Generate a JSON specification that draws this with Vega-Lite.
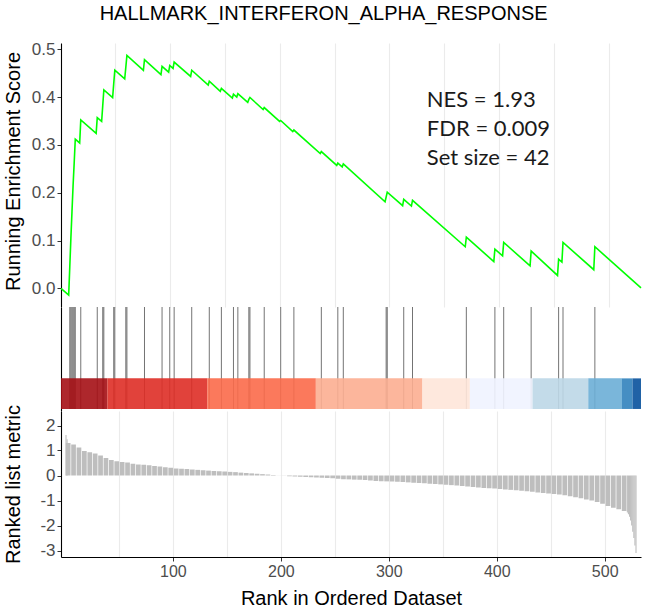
{
  "$schema": "https://vega.github.io/schema/vega-lite/v6.json",
  "padding": {"left": 2, "top": 4, "right": 3, "bottom": 5},
  "background": "white",
  "spacing": 0,
  "bounds": "flush",
  "title": {"text": "HALLMARK_INTERFERON_ALPHA_RESPONSE", "font": "Liberation Sans", "fontSize": 20, "fontWeight": "normal", "color": "black", "anchor": "middle", "baseline": "alphabetic", "offset": 0},
  "config": {
    "view": {"stroke": null},
    "font": "Liberation Sans",
    "axis": {"domainColor": "black", "domainWidth": 1.1, "labelFont": "Liberation Sans", "titleFont": "Liberation Sans", "labelColor": "#4D4D4D", "labelFontSize": 16, "titleFontSize": 20, "titleFontWeight": "normal", "titleColor": "black", "tickColor": "#333333", "tickSize": 4, "gridColor": "#EBEBEB", "gridWidth": 1.1, "labelOverlap": false}
  },
  "datasets": {
    "es": [
      {"rank": 1, "es": 0.0}, {"rank": 8, "es": -0.014}, {"rank": 9, "es": 0.045}, {"rank": 10, "es": 0.105},
      {"rank": 11, "es": 0.16}, {"rank": 12, "es": 0.215}, {"rank": 13, "es": 0.262}, {"rank": 14, "es": 0.312},
      {"rank": 18, "es": 0.304}, {"rank": 19, "es": 0.352}, {"rank": 33, "es": 0.324}, {"rank": 34, "es": 0.357},
      {"rank": 38, "es": 0.349}, {"rank": 39, "es": 0.382}, {"rank": 40, "es": 0.415}, {"rank": 48, "es": 0.399},
      {"rank": 49, "es": 0.428}, {"rank": 50, "es": 0.456}, {"rank": 59, "es": 0.438}, {"rank": 60, "es": 0.462},
      {"rank": 61, "es": 0.487}, {"rank": 76, "es": 0.456}, {"rank": 77, "es": 0.478}, {"rank": 92, "es": 0.447},
      {"rank": 93, "es": 0.464}, {"rank": 99, "es": 0.452}, {"rank": 100, "es": 0.466}, {"rank": 103, "es": 0.46},
      {"rank": 104, "es": 0.473}, {"rank": 119, "es": 0.443}, {"rank": 120, "es": 0.456}, {"rank": 135, "es": 0.425},
      {"rank": 136, "es": 0.433}, {"rank": 146, "es": 0.412}, {"rank": 147, "es": 0.418}, {"rank": 157, "es": 0.398},
      {"rank": 158, "es": 0.406}, {"rank": 161, "es": 0.4}, {"rank": 162, "es": 0.407}, {"rank": 171, "es": 0.389},
      {"rank": 172, "es": 0.395}, {"rank": 173, "es": 0.399}, {"rank": 185, "es": 0.374}, {"rank": 186, "es": 0.378},
      {"rank": 200, "es": 0.349}, {"rank": 201, "es": 0.351}, {"rank": 212, "es": 0.328}, {"rank": 213, "es": 0.331},
      {"rank": 237, "es": 0.282}, {"rank": 238, "es": 0.286}, {"rank": 252, "es": 0.257}, {"rank": 253, "es": 0.262},
      {"rank": 257, "es": 0.254}, {"rank": 258, "es": 0.26}, {"rank": 296, "es": 0.181}, {"rank": 297, "es": 0.191},
      {"rank": 298, "es": 0.201}, {"rank": 312, "es": 0.173}, {"rank": 313, "es": 0.186}, {"rank": 320, "es": 0.172},
      {"rank": 321, "es": 0.184}, {"rank": 369, "es": 0.087}, {"rank": 370, "es": 0.107}, {"rank": 395, "es": 0.056},
      {"rank": 396, "es": 0.082}, {"rank": 403, "es": 0.068}, {"rank": 404, "es": 0.096}, {"rank": 428, "es": 0.047},
      {"rank": 429, "es": 0.078}, {"rank": 453, "es": 0.027}, {"rank": 454, "es": 0.061}, {"rank": 457, "es": 0.055},
      {"rank": 458, "es": 0.096}, {"rank": 486, "es": 0.039}, {"rank": 487, "es": 0.087}, {"rank": 529, "es": 0.001}
    ],
    "hits": [
      {"rank": 9}, {"rank": 10}, {"rank": 11}, {"rank": 12}, {"rank": 13}, {"rank": 14}, {"rank": 19}, {"rank": 34},
      {"rank": 39}, {"rank": 40}, {"rank": 49}, {"rank": 50}, {"rank": 60}, {"rank": 61}, {"rank": 77}, {"rank": 93},
      {"rank": 100}, {"rank": 104}, {"rank": 120}, {"rank": 136}, {"rank": 147}, {"rank": 158}, {"rank": 162}, {"rank": 172},
      {"rank": 173}, {"rank": 186}, {"rank": 201}, {"rank": 213}, {"rank": 238}, {"rank": 253}, {"rank": 258}, {"rank": 297},
      {"rank": 298}, {"rank": 313}, {"rank": 321}, {"rank": 370}, {"rank": 396}, {"rank": 404}, {"rank": 429}, {"rank": 454},
      {"rank": 458}, {"rank": 487}
    ],
    "band": [
      {"x0": 1, "x1": 43.2, "bin": "r5"}, {"x0": 43.2, "x1": 134.2, "bin": "r4"}, {"x0": 134.2, "x1": 233, "bin": "r3"},
      {"x0": 233, "x1": 330, "bin": "r2"}, {"x0": 330, "x1": 373.2, "bin": "r1"}, {"x0": 373.2, "x1": 430.2, "bin": "b1"},
      {"x0": 430.2, "x1": 481, "bin": "b2"}, {"x0": 481, "x1": 511.7, "bin": "b3"}, {"x0": 511.7, "x1": 521.3, "bin": "b4"},
      {"x0": 521.3, "x1": 529, "bin": "b5"}
    ],
    "ann": [
      {"x": 334, "y": 0.379, "label": "NES = 1.93"},
      {"x": 334, "y": 0.319, "label": "FDR = 0.009"},
      {"x": 334, "y": 0.258, "label": "Set size = 42"}
    ],
    "metric": [
      {"rank": 1, "m": 1.62, "kind": "thin"}, {"rank": 2, "m": 1.45, "kind": "thin"},
      {"rank": 3, "m": 1.3}, {"rank": 8, "m": 1.24}, {"rank": 13, "m": 1.12}, {"rank": 18, "m": 0.98}, {"rank": 23, "m": 0.93},
      {"rank": 28, "m": 0.88}, {"rank": 33, "m": 0.8}, {"rank": 38, "m": 0.7}, {"rank": 43, "m": 0.62}, {"rank": 48, "m": 0.57},
      {"rank": 53, "m": 0.54}, {"rank": 58, "m": 0.52}, {"rank": 63, "m": 0.47}, {"rank": 68, "m": 0.44}, {"rank": 73, "m": 0.43},
      {"rank": 78, "m": 0.41}, {"rank": 83, "m": 0.38}, {"rank": 88, "m": 0.36}, {"rank": 93, "m": 0.33}, {"rank": 98, "m": 0.31},
      {"rank": 103, "m": 0.28}, {"rank": 108, "m": 0.27}, {"rank": 113, "m": 0.26}, {"rank": 118, "m": 0.24}, {"rank": 123, "m": 0.225},
      {"rank": 128, "m": 0.21}, {"rank": 133, "m": 0.195}, {"rank": 138, "m": 0.18}, {"rank": 143, "m": 0.17}, {"rank": 148, "m": 0.16},
      {"rank": 153, "m": 0.145}, {"rank": 158, "m": 0.135}, {"rank": 163, "m": 0.115}, {"rank": 168, "m": 0.1}, {"rank": 173, "m": 0.085},
      {"rank": 178, "m": 0.07}, {"rank": 183, "m": 0.055}, {"rank": 188, "m": 0.04}, {"rank": 193, "m": 0.02}, {"rank": 198, "m": 0.004},
      {"rank": 203, "m": -0.006}, {"rank": 208, "m": -0.03}, {"rank": 213, "m": -0.04}, {"rank": 218, "m": -0.05}, {"rank": 223, "m": -0.06},
      {"rank": 228, "m": -0.07}, {"rank": 233, "m": -0.08}, {"rank": 238, "m": -0.09}, {"rank": 243, "m": -0.1}, {"rank": 248, "m": -0.11},
      {"rank": 253, "m": -0.13}, {"rank": 258, "m": -0.15}, {"rank": 263, "m": -0.155}, {"rank": 268, "m": -0.165}, {"rank": 273, "m": -0.17},
      {"rank": 278, "m": -0.18}, {"rank": 283, "m": -0.2}, {"rank": 288, "m": -0.22}, {"rank": 293, "m": -0.23}, {"rank": 298, "m": -0.235},
      {"rank": 303, "m": -0.24}, {"rank": 308, "m": -0.25}, {"rank": 313, "m": -0.26}, {"rank": 318, "m": -0.275}, {"rank": 323, "m": -0.29},
      {"rank": 328, "m": -0.3}, {"rank": 333, "m": -0.31}, {"rank": 338, "m": -0.33}, {"rank": 343, "m": -0.34}, {"rank": 348, "m": -0.355},
      {"rank": 353, "m": -0.37}, {"rank": 358, "m": -0.385}, {"rank": 363, "m": -0.4}, {"rank": 368, "m": -0.42}, {"rank": 373, "m": -0.44},
      {"rank": 378, "m": -0.46}, {"rank": 383, "m": -0.48}, {"rank": 388, "m": -0.5}, {"rank": 393, "m": -0.51}, {"rank": 398, "m": -0.52},
      {"rank": 403, "m": -0.54}, {"rank": 408, "m": -0.56}, {"rank": 413, "m": -0.575}, {"rank": 418, "m": -0.59}, {"rank": 423, "m": -0.61},
      {"rank": 428, "m": -0.63}, {"rank": 433, "m": -0.65}, {"rank": 438, "m": -0.68}, {"rank": 443, "m": -0.7}, {"rank": 448, "m": -0.72},
      {"rank": 453, "m": -0.74}, {"rank": 458, "m": -0.76}, {"rank": 463, "m": -0.79}, {"rank": 468, "m": -0.83}, {"rank": 473, "m": -0.87},
      {"rank": 478, "m": -0.91}, {"rank": 483, "m": -0.96}, {"rank": 488, "m": -1.0}, {"rank": 493, "m": -1.06}, {"rank": 498, "m": -1.13},
      {"rank": 503, "m": -1.22}, {"rank": 508, "m": -1.29}, {"rank": 513, "m": -1.35}, {"rank": 518, "m": -1.42},
      {"rank": 521, "m": -1.48, "kind": "thin"}, {"rank": 522, "m": -1.55, "kind": "thin"}, {"rank": 523, "m": -1.65, "kind": "thin"},
      {"rank": 524, "m": -1.8, "kind": "thin"}, {"rank": 525, "m": -2.0, "kind": "thin"}, {"rank": 526, "m": -2.25, "kind": "thin"},
      {"rank": 527, "m": -2.5, "kind": "thin"}, {"rank": 528, "m": -2.8, "kind": "thin"}, {"rank": 529, "m": -3.1, "kind": "thin"}
    ]
  },
  "vconcat": [
    {
      "width": 580, "height": 264,
      "layer": [
        {
          "data": {"name": "es"},
          "mark": {"type": "line", "color": "#00FF00", "strokeWidth": 1.6, "interpolate": "linear"},
          "encoding": {
            "x": {"field": "rank", "type": "quantitative", "scale": {"domain": [1, 529], "nice": false, "zero": false},
                  "axis": {"values": [50, 100, 150, 200, 250, 300, 350, 400, 450, 500], "grid": true, "labels": false, "ticks": false, "domain": false, "title": null}},
            "y": {"field": "es", "type": "quantitative", "scale": {"domain": [-0.039, 0.513], "nice": false, "zero": false},
                  "axis": {"values": [0, 0.1, 0.2, 0.3, 0.4, 0.5], "format": ".1f", "grid": false, "labelOverlap": false, "title": "Running Enrichment Score", "titleX": -42, "titleY": 128, "titleBaseline": "alphabetic", "labelFontSize": 17}}
          }
        },
        {
          "data": {"name": "ann"},
          "mark": {"type": "text", "align": "left", "baseline": "alphabetic", "font": "Lato", "fontSize": 22, "color": "#1a1a1a"},
          "encoding": {
            "x": {"field": "x", "type": "quantitative"},
            "y": {"field": "y", "type": "quantitative"},
            "text": {"field": "label"}
          }
        }
      ]
    },
    {
      "width": 580, "height": 104,
      "layer": [
        {
          "data": {"name": "hits"},
          "mark": {"type": "rule", "color": "black", "strokeWidth": 1, "opacity": 0.55},
          "encoding": {
            "x": {"field": "rank", "type": "quantitative", "scale": {"domain": [1, 529], "nice": false, "zero": false}, "axis": null},
            "y": {"datum": 0, "type": "quantitative", "scale": {"domain": [-0.02, 1], "nice": false, "zero": false},
                  "axis": {"labels": false, "ticks": false, "grid": false, "title": null}},
            "y2": {"datum": 1}
          }
        },
        {
          "data": {"name": "band"},
          "mark": {"type": "rect", "opacity": 0.9},
          "encoding": {
            "x": {"field": "x0", "type": "quantitative"},
            "x2": {"field": "x1"},
            "y": {"datum": 0, "type": "quantitative"},
            "y2": {"datum": 0.3},
            "color": {"field": "bin", "type": "nominal", "legend": null,
                      "scale": {"domain": ["r5", "r4", "r3", "r2", "r1", "b1", "b2", "b3", "b4", "b5"],
                                "range": ["#A50F15", "#DE2D26", "#FB6A4A", "#FCAE91", "#FEE5D9", "#EFF3FF", "#BDD7E7", "#6BAED6", "#3182BD", "#08519C"]}}
          }
        }
      ]
    },
    {
      "width": 580, "height": 146,
      "data": {"name": "metric"},
      "encoding": {
        "x": {"field": "rank", "type": "quantitative", "scale": {"domain": [1, 529], "nice": false, "zero": false},
              "axis": {"values": [50, 100, 150, 200, 250, 300, 350, 400, 450, 500], "grid": true, "title": "Rank in Ordered Dataset",
                       "labelExpr": "datum.value % 100 === 0 ? datum.label : ''",
                       "tickOpacity": {"condition": {"test": "datum.value % 100 === 0", "value": 1}, "value": 0},
                       "labelOverlap": false, "labelFontSize": 16, "titlePadding": 9}},
        "y": {"field": "m", "type": "quantitative", "scale": {"domain": [-3.26, 2.58], "nice": false, "zero": false},
              "axis": {"tickCount": 6, "grid": false, "labelOverlap": false, "title": "Ranked list metric", "titleX": -42, "titleY": 73, "titleBaseline": "alphabetic", "labelFontSize": 17,
                       "labelExpr": "replace(datum.label, '\u2212', '-')"}},
        "y2": {"datum": 0}
      },
      "layer": [
        {
          "transform": [{"filter": "datum.kind !== 'thin'"}],
          "mark": {"type": "bar", "color": "#BEBEBE", "width": 4.7}
        },
        {
          "transform": [{"filter": "datum.kind === 'thin'"}],
          "mark": {"type": "rule", "color": "#BEBEBE", "strokeWidth": 1.1}
        }
      ]
    }
  ]
}
